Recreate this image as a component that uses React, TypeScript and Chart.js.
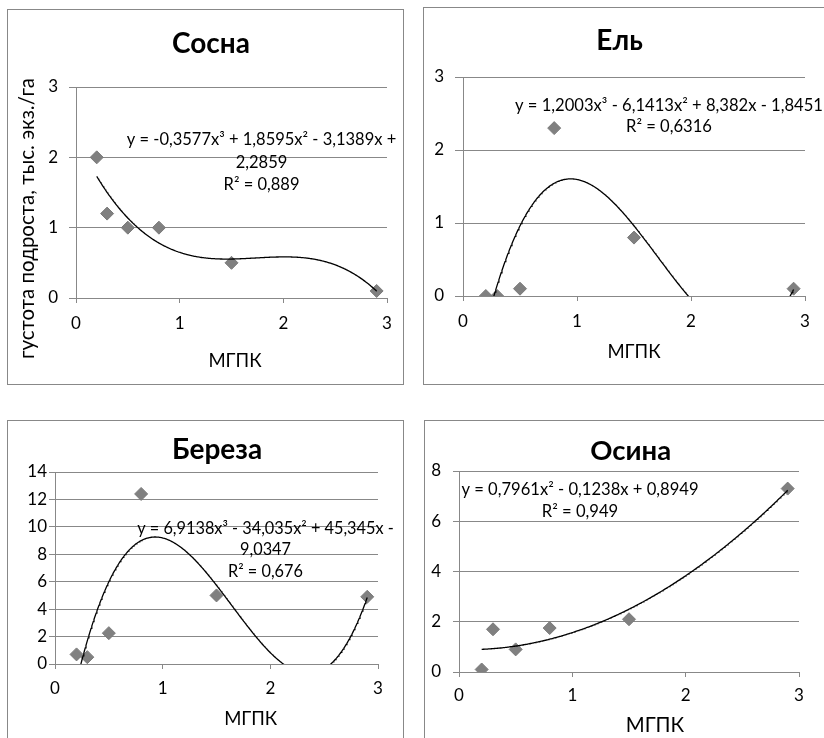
import React, { useEffect, useRef } from "react";
import { Chart, registerables } from "chart.js";

Chart.register(...registerables);

const FONT = "Lato, 'Open Sans', sans-serif";
const GRID = "#888888";
const TICK_SIZE = 17;

// ---- data ----
const mgpk = [0.2, 0.3, 0.5, 0.8, 1.5, 2.9];
const pine = [2.0, 1.2, 1.0, 1.0, 0.5, 0.1];
const spruce = [0, 0, 0.1, 2.3, 0.8, 0.1];
const birch = [0.7, 0.5, 2.25, 12.4, 5.0, 4.9];
const aspen = [0.1, 1.7, 0.9, 1.75, 2.1, 7.3];

// trendline coefficients (highest power first), as shown on the chart
const pineTrend = [-0.3577, 1.8595, -3.1389, 2.2859];
const spruceTrend = [1.2003, -6.1413, 8.382, -1.8451];
const birchTrend = [6.9138, -34.035, 45.345, -9.0347];
const aspenTrend = [0.7961, -0.1238, 0.8949];

const xTicks = [0, 1, 2, 3];

const titles = ["Сосна", "Ель", "Береза", "Осина"];
const pineEq = ["y = -0,3577x³ + 1,8595x² - 3,1389x +", "2,2859", "R² = 0,889"];
const spruceEq = ["y = 1,2003x³ - 6,1413x² + 8,382x - 1,8451", "R² = 0,6316"];
const birchEq = ["y = 6,9138x³ - 34,035x² + 45,345x -", "9,0347", "R² = 0,676"];
const aspenEq = ["y = 0,7961x² - 0,1238x + 0,8949", "R² = 0,949"];
const xTitle = "МГПК";
const yTitle = "густота подроста, тыс. экз./га";

type Txt = { text: string; x: number; y: number; size: number; bold?: boolean; rotate?: boolean };
type Box = { left: number; top: number; width: number; height: number };
type Plot = { left: number; top: number; right: number; bottom: number };
type PanelCfg = {
  box: Box;
  plot: Plot;
  values: number[];
  trend: number[];
  yMax: number;
  yStep: number;
  yTickLen: number;
  yTickPad: number;
  xTickPad: number;
  texts: Txt[];
};

const Y_W = 34;
const X_H = 45;

function trendPoints(coef: number[]) {
  const lo = Math.min(...mgpk);
  const hi = Math.max(...mgpk);
  const pts: { x: number; y: number }[] = [];
  const n = 400;
  for (let i = 0; i <= n; i++) {
    const x = lo + ((hi - lo) * i) / n;
    let y = 0;
    for (const c of coef) y = y * x + c;
    pts.push({ x, y });
  }
  return pts;
}

const eqLines = (lines: string[], cx: number, y0: number, gap: number, size: number): Txt[] =>
  lines.map((t, i) => ({ text: t, x: cx, y: y0 + i * gap, size }));

const panels: PanelCfg[] = [
  {
    box: { left: 7, top: 9, width: 397, height: 376 },
    plot: { left: 76, top: 87, right: 387, bottom: 298 },
    values: pine,
    trend: pineTrend,
    yMax: 3,
    yStep: 1,
    yTickLen: 7,
    yTickPad: 11,
    xTickPad: 10,
    texts: [
      { text: titles[0], x: 211, y: 53, size: 28, bold: true },
      ...eqLines(pineEq, 261.5, 145, 22.5, 16.5),
      { text: xTitle, x: 235, y: 367, size: 18.5 },
      { text: yTitle, x: 27, y: 218.5, size: 20.5, rotate: true },
    ],
  },
  {
    box: { left: 423, top: 7, width: 410, height: 378 },
    plot: { left: 463, top: 77, right: 805, bottom: 296 },
    values: spruce,
    trend: spruceTrend,
    yMax: 3,
    yStep: 1,
    yTickLen: 8,
    yTickPad: 11,
    xTickPad: 10.5,
    texts: [
      { text: titles[1], x: 619.5, y: 50, size: 28, bold: true },
      ...eqLines(spruceEq, 669, 111, 21, 16.6),
      { text: xTitle, x: 634, y: 358, size: 18.5 },
    ],
  },
  {
    box: { left: 7, top: 420, width: 397, height: 330 },
    plot: { left: 55, top: 472, right: 378, bottom: 664 },
    values: birch,
    trend: birchTrend,
    yMax: 14,
    yStep: 2,
    yTickLen: 6,
    yTickPad: 2,
    xTickPad: 9,
    texts: [
      { text: titles[2], x: 217, y: 459, size: 28, bold: true },
      ...eqLines(birchEq, 265.5, 533.5, 21.7, 16.3),
      { text: xTitle, x: 250.7, y: 725, size: 18.5 },
    ],
  },
  {
    box: { left: 424, top: 420, width: 410, height: 330 },
    plot: { left: 459, top: 471, right: 799, bottom: 672 },
    values: aspen,
    trend: aspenTrend,
    yMax: 8,
    yStep: 2,
    yTickLen: 6,
    yTickPad: 12,
    xTickPad: 8,
    texts: [
      { text: titles[3], x: 630.7, y: 460, size: 27.5, bold: true },
      ...eqLines(aspenEq, 580, 495, 21.7, 16.6),
      { text: xTitle, x: 655, y: 731.7, size: 20.4 },
    ],
  },
];

function textPlugin(cfg: PanelCfg) {
  return {
    id: "panelText",
    afterDraw(chart: any) {
      const ctx = chart.ctx as CanvasRenderingContext2D;
      for (const t of cfg.texts) {
        ctx.save();
        ctx.fillStyle = "#000";
        ctx.font = `${t.bold ? "bold " : ""}${t.size}px ${FONT}`;
        ctx.textAlign = "center";
        const x = t.x - cfg.box.left;
        const y = t.y - cfg.box.top;
        if (t.rotate) {
          ctx.translate(x, y);
          ctx.rotate(-Math.PI / 2);
          ctx.textBaseline = "middle";
          ctx.fillText(t.text, 0, 0);
        } else {
          ctx.textBaseline = "alphabetic";
          ctx.fillText(t.text, x, y);
        }
        ctx.restore();
      }
    },
  };
}

function Panel({ cfg }: { cfg: PanelCfg }) {
  const ref = useRef<HTMLCanvasElement | null>(null);
  useEffect(() => {
    const canvas = ref.current;
    if (!canvas) return;
    const { box, plot } = cfg;
    const pad = {
      left: plot.left - box.left - Y_W,
      top: plot.top - box.top,
      right: box.left + box.width - plot.right,
      bottom: box.top + box.height - plot.bottom - X_H,
    };
    const chart = new Chart(canvas, {
      type: "scatter",
      data: {
        datasets: [
          {
            data: trendPoints(cfg.trend),
            showLine: true,
            borderColor: "#000000",
            borderWidth: 1.3,
            pointRadius: 0,
            fill: false,
            order: 0,
          } as any,
          {
            data: mgpk.map((x, i) => ({ x, y: cfg.values[i] })),
            pointStyle: "rectRot",
            pointRadius: 6.5,
            backgroundColor: "#808080",
            borderColor: "#7a7a7a",
            borderWidth: 1,
            order: 1,
          } as any,
        ],
      },
      options: {
        animation: false,
        responsive: false,
        maintainAspectRatio: false,
        events: [],
        layout: { padding: pad },
        plugins: {
          legend: { display: false },
          tooltip: { enabled: false },
          title: { display: false },
        },
        scales: {
          x: {
            type: "linear",
            position: "bottom",
            min: xTicks[0],
            max: xTicks[xTicks.length - 1],
            afterBuildTicks: (s: any) => {
              s.ticks = xTicks.map((v) => ({ value: v }));
            },
            ticks: {
              padding: cfg.xTickPad,
              color: "#000",
              font: { family: FONT, size: TICK_SIZE },
              maxRotation: 0,
              autoSkip: false,
            },
            grid: { drawOnChartArea: false, drawTicks: true, tickLength: 5, color: GRID },
            border: { display: true, color: GRID },
            afterFit: (s: any) => {
              s.height = X_H;
            },
          },
          y: {
            type: "linear",
            min: 0,
            max: cfg.yMax,
            ticks: {
              stepSize: cfg.yStep,
              padding: cfg.yTickPad,
              color: "#000",
              font: { family: FONT, size: TICK_SIZE },
              autoSkip: false,
            },
            grid: { color: GRID, tickLength: cfg.yTickLen, drawTicks: true },
            border: { display: true, color: GRID },
            afterFit: (s: any) => {
              s.width = Y_W;
            },
          },
        },
      } as any,
      plugins: [textPlugin(cfg)],
    });
    return () => chart.destroy();
  }, [cfg]);

  const { box } = cfg;
  return (
    <>
      <div
        style={{
          position: "absolute",
          left: box.left,
          top: box.top,
          width: box.width,
          height: box.height,
          border: `1px solid ${GRID}`,
          boxSizing: "border-box",
        }}
      />
      <canvas
        ref={ref}
        width={box.width}
        height={box.height}
        style={{
          position: "absolute",
          left: box.left,
          top: box.top,
          width: box.width,
          height: box.height,
        }}
      />
    </>
  );
}

export default function App() {
  return (
    <div
      style={{
        position: "absolute",
        left: 0,
        top: 0,
        width: 824,
        height: 738,
        overflow: "hidden",
        background: "#fff",
      }}
    >
      {panels.map((p, i) => (
        <Panel key={i} cfg={p} />
      ))}
    </div>
  );
}
